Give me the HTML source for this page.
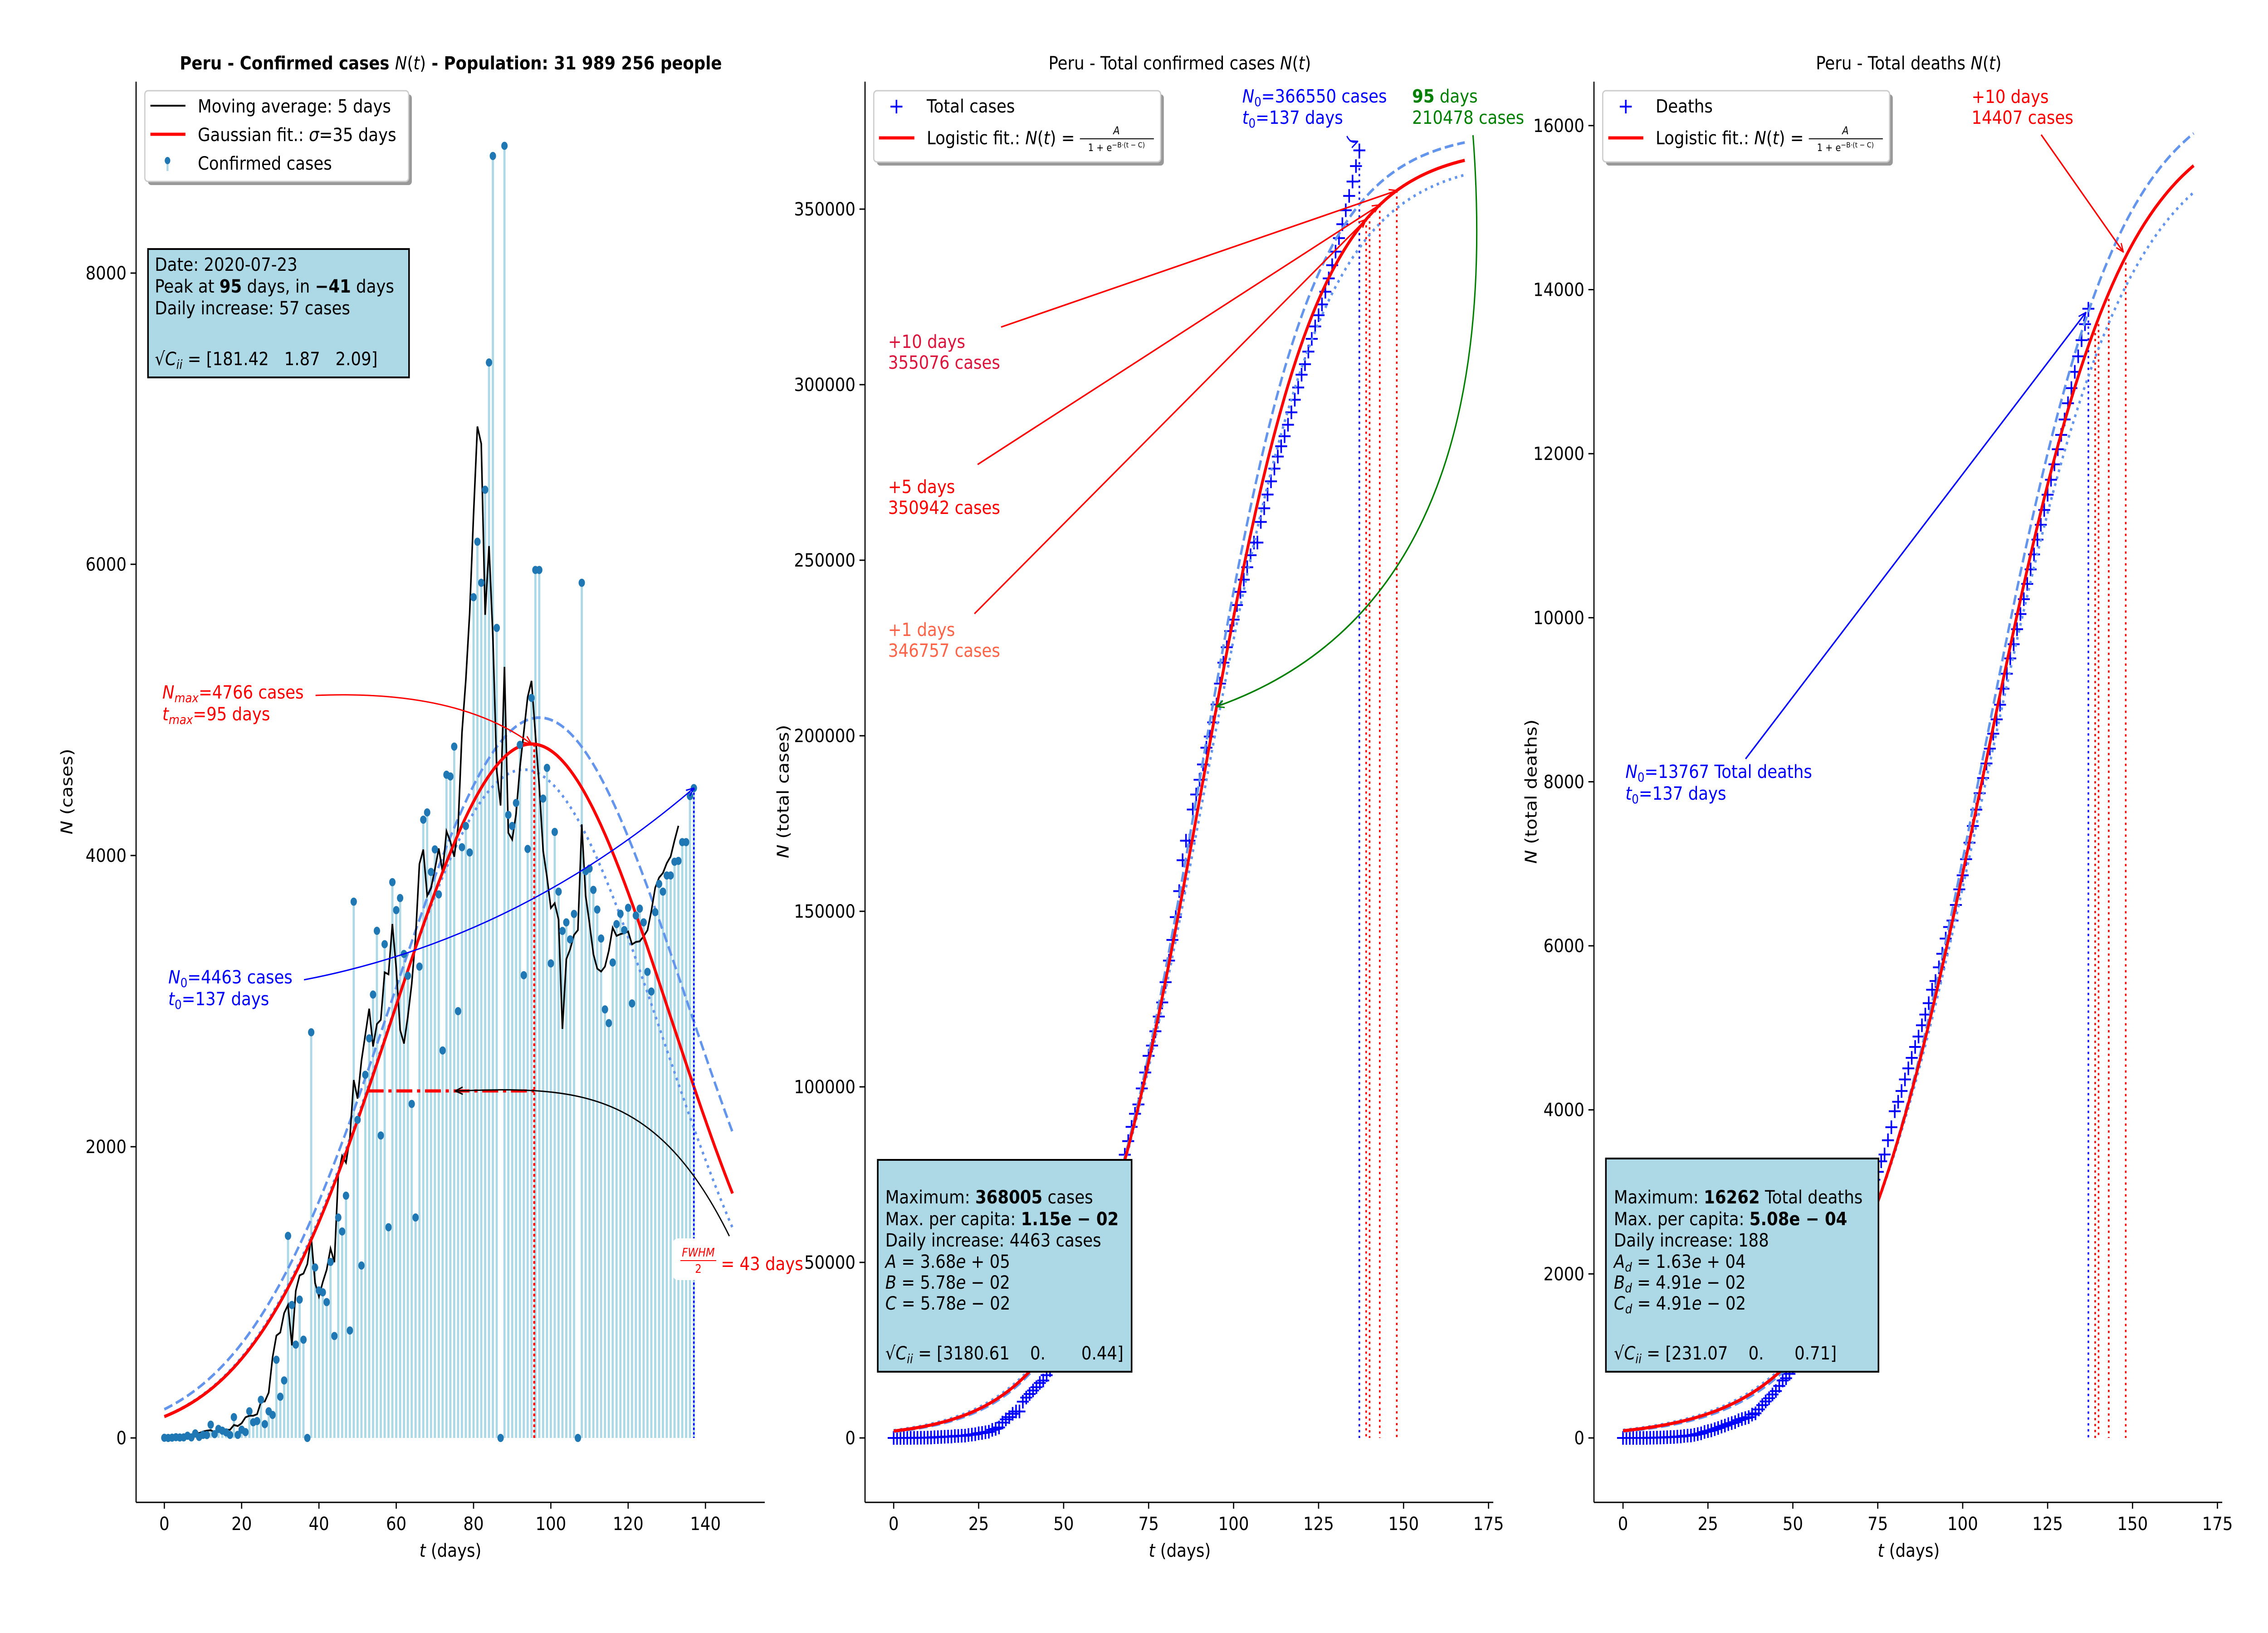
<!DOCTYPE html>
<html><head><meta charset="utf-8"><style>
html,body{margin:0;padding:0;background:#fff;width:100%;height:100%;overflow:hidden;}
svg{display:block;font-family:"DejaVu Sans","Liberation Sans",sans-serif;width:100vw;height:100vh;}
</style></head><body>
<svg id="fig" viewBox="0 0 5700 3600" preserveAspectRatio="none" xmlns="http://www.w3.org/2000/svg">
<defs>
<marker id="ahR" viewBox="0 0 20 20" refX="19" refY="10" markerWidth="20" markerHeight="20" markerUnits="userSpaceOnUse" orient="auto"><path d="M0,2 L19,10 L0,18" fill="none" stroke="red" stroke-width="3"/></marker>
<marker id="ahB" viewBox="0 0 20 20" refX="19" refY="10" markerWidth="20" markerHeight="20" markerUnits="userSpaceOnUse" orient="auto"><path d="M0,2 L19,10 L0,18" fill="none" stroke="blue" stroke-width="3"/></marker>
<marker id="ahK" viewBox="0 0 20 20" refX="19" refY="10" markerWidth="20" markerHeight="20" markerUnits="userSpaceOnUse" orient="auto"><path d="M0,2 L19,10 L0,18" fill="none" stroke="black" stroke-width="3"/></marker>
<marker id="ahG" viewBox="0 0 20 20" refX="19" refY="10" markerWidth="20" markerHeight="20" markerUnits="userSpaceOnUse" orient="auto"><path d="M0,2 L19,10 L0,18" fill="none" stroke="green" stroke-width="3"/></marker>
</defs>
<g id="p1"></g>
<g id="p2"></g>
<g id="p3"></g>
<g id="static" font-size="40.5">
 <text x="1133" y="153" text-anchor="middle" font-weight="bold">Peru - Confirmed cases <tspan font-style="italic" font-weight="normal">N</tspan><tspan font-weight="normal">(</tspan><tspan font-style="italic" font-weight="normal">t</tspan><tspan font-weight="normal">)</tspan> - Population: 31 989 256 people</text>
 <text x="2965" y="153" text-anchor="middle">Peru - Total confirmed cases <tspan font-style="italic">N</tspan>(<tspan font-style="italic">t</tspan>)</text>
 <text x="4797" y="153" text-anchor="middle">Peru - Total deaths <tspan font-style="italic">N</tspan>(<tspan font-style="italic">t</tspan>)</text>
 <text x="1132" y="3432" text-anchor="middle"><tspan font-style="italic">t</tspan> (days)</text>
 <text x="2965" y="3432" text-anchor="middle"><tspan font-style="italic">t</tspan> (days)</text>
 <text x="4797" y="3432" text-anchor="middle"><tspan font-style="italic">t</tspan> (days)</text>
 <text transform="translate(182,1745) rotate(-90)" text-anchor="middle"><tspan font-style="italic">N</tspan> (cases)</text>
 <text transform="translate(1982,1745) rotate(-90)" text-anchor="middle"><tspan font-style="italic">N</tspan> (total cases)</text>
 <text transform="translate(3862,1745) rotate(-90)" text-anchor="middle"><tspan font-style="italic">N</tspan> (total deaths)</text>

 <g>
  <rect x="372" y="208" width="663" height="200" rx="8" fill="#999"/>
  <rect x="364" y="200" width="663" height="200" rx="8" fill="#fff" stroke="#ccc" stroke-width="3"/>
  <line x1="378" y1="233" x2="466" y2="233" stroke="#000" stroke-width="4"/>
  <text x="497" y="248">Moving average: 5 days</text>
  <line x1="378" y1="296" x2="466" y2="296" stroke="red" stroke-width="7"/>
  <text x="497" y="311">Gaussian fit.: <tspan font-style="italic">σ</tspan>=35 days</text>
  <line x1="421" y1="354" x2="421" y2="377" stroke="#add8e6" stroke-width="5"/>
  <ellipse cx="421" cy="354" rx="7" ry="8" fill="#1f77b4"/>
  <text x="497" y="374">Confirmed cases</text>
 </g>
 <g>
  <rect x="2204" y="208" width="721" height="157" rx="8" fill="#999"/>
  <rect x="2196" y="200" width="721" height="157" rx="8" fill="#fff" stroke="#ccc" stroke-width="3"/>
  <path d="M2238,235 h30 M2253,220 v30" stroke="blue" stroke-width="4"/>
  <text x="2329" y="248">Total cases</text>
  <line x1="2209" y1="304" x2="2298" y2="304" stroke="red" stroke-width="7"/>
  <text x="2329" y="318">Logistic fit.: <tspan font-style="italic">N</tspan>(<tspan font-style="italic">t</tspan>) = </text>
  <text x="2806" y="296" font-size="24" text-anchor="middle" font-style="italic">A</text>
  <line x1="2714" y1="306" x2="2900" y2="306" stroke="#000" stroke-width="2"/>
  <text x="2806" y="333" font-size="22" text-anchor="middle">1 + e<tspan font-size="16" dy="-8">−B·(t − C)</tspan></text>
 </g>
 <g>
  <rect x="4036" y="208" width="721" height="157" rx="8" fill="#999"/>
  <rect x="4028" y="200" width="721" height="157" rx="8" fill="#fff" stroke="#ccc" stroke-width="3"/>
  <path d="M4071,235 h30 M4086,220 v30" stroke="blue" stroke-width="4"/>
  <text x="4161" y="248">Deaths</text>
  <line x1="4042" y1="304" x2="4130" y2="304" stroke="red" stroke-width="7"/>
  <text x="4161" y="318">Logistic fit.: <tspan font-style="italic">N</tspan>(<tspan font-style="italic">t</tspan>) = </text>
  <text x="4638" y="296" font-size="24" text-anchor="middle" font-style="italic">A</text>
  <line x1="4546" y1="306" x2="4732" y2="306" stroke="#000" stroke-width="2"/>
  <text x="4638" y="333" font-size="22" text-anchor="middle">1 + e<tspan font-size="16" dy="-8">−B·(t − C)</tspan></text>
 </g>

 <g>
  <rect x="372" y="549" width="656" height="283" fill="#add8e6" stroke="#000" stroke-width="4"/>
  <text x="389" y="597">Date: 2020-07-23</text>
  <text x="389" y="645">Peak at <tspan font-weight="bold">95</tspan> days, in <tspan font-weight="bold">−41</tspan> days</text>
  <text x="389" y="693">Daily increase: 57 cases</text>
  <text x="389" y="805" xml:space="preserve">√<tspan font-style="italic">C</tspan><tspan font-style="italic" font-size="28" dy="8">ii</tspan><tspan dy="-8"> = [181.42   1.87   2.09]</tspan></text>
 </g>
 <g>
  <rect x="2206" y="2557" width="638" height="467" fill="#add8e6" stroke="#000" stroke-width="4"/>
  <text x="2225" y="2653">Maximum: <tspan font-weight="bold">368005</tspan> cases</text>
  <text x="2225" y="2701">Max. per capita: <tspan font-weight="bold">1.15e − 02</tspan></text>
  <text x="2225" y="2748">Daily increase: 4463 cases</text>
  <text x="2225" y="2795"><tspan font-style="italic">A</tspan> = 3.68<tspan font-style="italic">e</tspan> + 05</text>
  <text x="2225" y="2841"><tspan font-style="italic">B</tspan> = 5.78<tspan font-style="italic">e</tspan> − 02</text>
  <text x="2225" y="2887"><tspan font-style="italic">C</tspan> = 5.78<tspan font-style="italic">e</tspan> − 02</text>
  <text x="2225" y="2997" xml:space="preserve">√<tspan font-style="italic">C</tspan><tspan font-style="italic" font-size="28" dy="8">ii</tspan><tspan dy="-8"> = [3180.61    0.       0.44]</tspan></text>
 </g>
 <g>
  <rect x="4036" y="2554" width="685" height="470" fill="#add8e6" stroke="#000" stroke-width="4"/>
  <text x="4056" y="2653">Maximum: <tspan font-weight="bold">16262</tspan> Total deaths</text>
  <text x="4056" y="2701">Max. per capita: <tspan font-weight="bold">5.08e − 04</tspan></text>
  <text x="4056" y="2748">Daily increase: 188</text>
  <text x="4056" y="2795"><tspan font-style="italic">A<tspan font-size="28" dy="8">d</tspan></tspan><tspan dy="-8"> = 1.63</tspan><tspan font-style="italic">e</tspan> + 04</text>
  <text x="4056" y="2841"><tspan font-style="italic">B<tspan font-size="28" dy="8">d</tspan></tspan><tspan dy="-8"> = 4.91</tspan><tspan font-style="italic">e</tspan> − 02</text>
  <text x="4056" y="2887"><tspan font-style="italic">C<tspan font-size="28" dy="8">d</tspan></tspan><tspan dy="-8"> = 4.91</tspan><tspan font-style="italic">e</tspan> − 02</text>
  <text x="4056" y="2997" xml:space="preserve">√<tspan font-style="italic">C</tspan><tspan font-style="italic" font-size="28" dy="8">ii</tspan><tspan dy="-8"> = [231.07    0.      0.71]</tspan></text>
 </g>

 <text x="408" y="1540" fill="red"><tspan font-style="italic">N</tspan><tspan font-style="italic" font-size="28" dy="8">max</tspan><tspan dy="-8">=4766 cases</tspan></text>
 <text x="408" y="1588" fill="red"><tspan font-style="italic">t</tspan><tspan font-style="italic" font-size="28" dy="8">max</tspan><tspan dy="-8">=95 days</tspan></text>
 <text x="423" y="2168" fill="blue"><tspan font-style="italic">N</tspan><tspan font-size="28" dy="8">0</tspan><tspan dy="-8">=4463 cases</tspan></text>
 <text x="423" y="2216" fill="blue"><tspan font-style="italic">t</tspan><tspan font-size="28" dy="8">0</tspan><tspan dy="-8">=137 days</tspan></text>
 <g>
  <rect x="1690" y="2730" width="150" height="92" rx="14" fill="#fff"/>
  <text x="1755" y="2770" fill="red" font-size="26" font-style="italic" text-anchor="middle">FWHM</text>
  <line x1="1710" y1="2779" x2="1800" y2="2779" stroke="red" stroke-width="2"/>
  <text x="1755" y="2806" fill="red" font-size="26" text-anchor="middle">2</text>
  <text x="1812" y="2800" fill="red">= 43 days</text>
 </g>

 <text x="2232" y="767" fill="#dc143c">+10 days</text>
 <text x="2232" y="813" fill="#dc143c">355076 cases</text>
 <text x="2232" y="1087" fill="red">+5 days</text>
 <text x="2232" y="1133" fill="red">350942 cases</text>
 <text x="2232" y="1402" fill="#ff6347">+1 days</text>
 <text x="2232" y="1448" fill="#ff6347">346757 cases</text>
 <text x="3122" y="226" fill="blue"><tspan font-style="italic">N</tspan><tspan font-size="28" dy="8">0</tspan><tspan dy="-8">=366550 cases</tspan></text>
 <text x="3122" y="273" fill="blue"><tspan font-style="italic">t</tspan><tspan font-size="28" dy="8">0</tspan><tspan dy="-8">=137 days</tspan></text>
 <text x="3549" y="226" fill="green"><tspan font-weight="bold">95</tspan> days</text>
 <text x="3549" y="273" fill="green">210478 cases</text>

 <text x="4955" y="227" fill="red">+10 days</text>
 <text x="4955" y="273" fill="red">14407 cases</text>
 <text x="4085" y="1715" fill="blue"><tspan font-style="italic">N</tspan><tspan font-size="28" dy="8">0</tspan><tspan dy="-8">=13767 Total deaths</tspan></text>
 <text x="4085" y="1763" fill="blue"><tspan font-style="italic">t</tspan><tspan font-size="28" dy="8">0</tspan><tspan dy="-8">=137 days</tspan></text>
</g>
</svg>
<script>
// ---------- DATA ----------
const days = Array.from({length:138},(_,i)=>i);
const dailyCases = [1,0,2,5,3,4,15,4,31,7,21,20,91,26,62,50,38,21,143,21,57,40,183,108,116,262,95,183,158,537,
283,395,1388,913,641,950,675,0,2786,1171,1013,1000,933,1209,700,1514,1418,1664,738,3683,
2185,1184,2494,2744,3045,3483,2077,3391,1447,3817,3625,3708,3324,3174,2294,1514,3237,4246,4296,3887,
4042,3733,2661,4555,4543,4748,2931,4057,4203,4021,5774,6155,5873,6512,7386,8804,5563,0,8874,4279,
4203,4361,4760,3178,4045,5082,5961,5961,4391,4602,3259,4162,3752,3482,3541,3424,3599,0,5873,3892,
3910,3764,3629,3430,2943,2849,3265,3529,3600,3488,3641,2984,3588,3635,3541,3201,3066,3611,3805,3752,
3863,3863,3957,3963,4092,4092,4408,4463];
const totalDeaths = [0,0,0,0,0,0,0,1,2,3,4,5,7,9,11,12,16,18,24,28,30,38,47,56,73,83,92,107,121,138,
151,169,181,193,216,230,242,254,285,300,348,400,445,484,530,572,634,700,728,782,
854,943,982,1051,1124,1200,1286,1344,1444,1533,1627,1714,1814,1889,1961,2057,2169,2267,2392,2523,
2648,2789,2914,3024,3148,3244,3373,3456,3629,3788,3983,4099,4230,4371,4506,4634,4767,4894,5031,5162,
5301,5465,5571,5738,5903,6088,6229,6308,6498,6688,6860,7056,7257,7461,7660,7861,8045,8223,8404,8586,
8761,8939,9135,9317,9504,9677,9860,10045,10226,10412,10589,10772,10952,11133,11314,11500,11682,11870,12054,12229,
12417,12615,12799,12998,13187,13384,13579,13767];
const ticks1X = [0,20,40,60,80,100,120,140];
const ticks1Y = [0,2000,4000,6000,8000];
const ticks2X = [0,25,50,75,100,125,150,175];
const ticks2Y = [0,50000,100000,150000,200000,250000,300000,350000];
const ticks3Y = [0,2000,4000,6000,8000,10000,12000,14000,16000];
const gaussFit = [4766,95,36];
const gaussUpper = [4947,97,38.2];
const gaussLower = [4590,93,35.5];
const logiFit = [368005,0.0578,90.4];
const logiUpper = [372500,0.0595,89.8];
const logiLower = [364500,0.0562,91.0];
const deathFit = [16262,0.0491,106.3];
const deathUpper = [16600,0.0505,106.0];
const deathLower = [16000,0.0478,106.8];
const forecastDays = [139,140,143,148];
const lastDay = 137;

// ---------- SCALES ----------
const X1=d=>413+d*9.714, Y1=v=>3170-v*0.321;
const X2=d=>2246+d*8.543, Y2=v=>3170-v*0.00774;
const X3=d=>4079+d*8.537, Y3=v=>3170-v*0.18082;
const NS="http://www.w3.org/2000/svg";
function mk(parent,tag,attrs,txt){const e=document.createElementNS(NS,tag);for(const k in attrs)e.setAttribute(k,attrs[k]);if(txt!==undefined)e.textContent=txt;parent.appendChild(e);return e;}
const gauss=(p,t)=>p[0]*Math.exp(-((t-p[1])**2)/(2*p[2]*p[2]));
const logi=(p,t)=>p[0]/(1+Math.exp(-p[1]*(t-p[2])));
function pathOf(f,X,Y,t0,t1,step){let d="";for(let t=t0;t<=t1+1e-9;t+=step){d+=(d?"L":"M")+X(t).toFixed(1)+","+Y(f(t)).toFixed(1);}return d;}

function axes(g,left,right,X,Y,tx,ty,name){
  let e=mk(g,"line",{x1:left,y1:3312,x2:right,y2:3312,stroke:"#000","stroke-width":3});
  
  
  e=mk(g,"line",{x1:left,y1:180,x2:left,y2:3312,stroke:"#000","stroke-width":3});
  
  
  tx.forEach(v=>{mk(g,"line",{x1:X(v),y1:3312,x2:X(v),y2:3326,stroke:"#000","stroke-width":3});
    const t=mk(g,"text",{x:X(v),y:3373,"text-anchor":"middle","font-size":40.5},String(v));
    
    });
  ty.forEach(v=>{mk(g,"line",{x1:left-14,y1:Y(v),x2:left,y2:Y(v),stroke:"#000","stroke-width":3});
    const t=mk(g,"text",{x:left-24,y:Y(v)+14,"text-anchor":"end","font-size":40.5},String(v));
    
    });
}
function plus(g,x,y){const e=mk(g,"path",{d:`M${x-15},${y}h30M${x},${y-15}v30`,stroke:"blue","stroke-width":4});
  
  }

// ---------- PANEL 1 ----------
const p1=document.getElementById('p1');
axes(p1,342,1922,X1,Y1,ticks1X,ticks1Y,'panel1');
days.forEach(d=>{const e=mk(p1,"line",{x1:X1(d),y1:Y1(0),x2:X1(d),y2:Y1(dailyCases[d]),stroke:"#add8e6","stroke-width":5.5});
  
  });
let e;
e=mk(p1,"path",{d:pathOf(t=>gauss(gaussUpper,t),X1,Y1,0,147,0.5),fill:"none",stroke:"#6495ed","stroke-width":6,"stroke-dasharray":"22,10"});


e=mk(p1,"path",{d:pathOf(t=>gauss(gaussLower,t),X1,Y1,0,147,0.5),fill:"none",stroke:"#6495ed","stroke-width":6,"stroke-dasharray":"6,10"});


let ma="";for(let d=0;d<=dailyCases.length-5;d++){let s=0;for(let k=0;k<5;k++)s+=dailyCases[d+k];ma+=(ma?"L":"M")+X1(d).toFixed(1)+","+Y1(s/5).toFixed(1);}
e=mk(p1,"path",{d:ma,fill:"none",stroke:"#000","stroke-width":4});


e=mk(p1,"path",{d:pathOf(t=>gauss(gaussFit,t),X1,Y1,0,147,0.5),fill:"none",stroke:"red","stroke-width":7});


days.forEach(d=>{const c=mk(p1,"ellipse",{cx:X1(d),cy:Y1(dailyCases[d]),rx:8,ry:9,fill:"#1f77b4"});
  
  });
const hw=gaussFit[2]*Math.sqrt(2*Math.log(2));
e=mk(p1,"line",{x1:X1(gaussFit[1]-hw),y1:Y1(gaussFit[0]/2),x2:X1(gaussFit[1]+0.7),y2:Y1(gaussFit[0]/2),stroke:"red","stroke-width":7,"stroke-dasharray":"40,12,8,12"});


e=mk(p1,"line",{x1:X1(gaussFit[1]+0.7),y1:Y1(gaussFit[0]),x2:X1(gaussFit[1]+0.7),y2:Y1(0),stroke:"red","stroke-width":5,"stroke-dasharray":"6,6"});


e=mk(p1,"line",{x1:X1(lastDay),y1:Y1(dailyCases[lastDay]),x2:X1(lastDay),y2:Y1(0),stroke:"blue","stroke-width":4,"stroke-dasharray":"5,5"});


const pk=[X1(gaussFit[1]),Y1(gaussFit[0])];
e=mk(p1,"path",{d:`M793,1533 Q1150,1520 ${pk[0]},${pk[1]}`,fill:"none",stroke:"red","stroke-width":3,"marker-end":"url(#ahR)"});


const lp=[X1(lastDay),Y1(dailyCases[lastDay])];
e=mk(p1,"path",{d:`M764,2160 Q1300,2070 ${lp[0]},${lp[1]}`,fill:"none",stroke:"blue","stroke-width":3,"marker-end":"url(#ahB)"});


const hl=[X1(gaussFit[1]-hw)+220,Y1(gaussFit[0]/2)];
e=mk(p1,"path",{d:`M1833,2725 C1650,2400 1450,2395 ${hl[0]},${hl[1]}`,fill:"none",stroke:"#000","stroke-width":3,"marker-end":"url(#ahK)"});



// ---------- PANEL 2 ----------
const p2=document.getElementById('p2');
axes(p2,2174,3753,X2,Y2,ticks2X,ticks2Y,'panel2');
const totalCases=[];let acc=0;dailyCases.forEach(v=>{acc+=v;totalCases.push(acc);});
forecastDays.forEach(d=>{const l=mk(p2,"line",{x1:X2(d),y1:Y2(logi(logiFit,d)),x2:X2(d),y2:Y2(0),stroke:"red","stroke-width":4,"stroke-dasharray":"5,8"});
  
  });
e=mk(p2,"line",{x1:X2(lastDay),y1:Y2(totalCases[lastDay]),x2:X2(lastDay),y2:Y2(0),stroke:"blue","stroke-width":4,"stroke-dasharray":"5,8"});


days.forEach(d=>plus(p2,X2(d),Y2(totalCases[d])));
e=mk(p2,"path",{d:pathOf(t=>logi(logiUpper,t),X2,Y2,0,168,0.5),fill:"none",stroke:"#6495ed","stroke-width":6,"stroke-dasharray":"22,10"});


e=mk(p2,"path",{d:pathOf(t=>logi(logiLower,t),X2,Y2,0,168,0.5),fill:"none",stroke:"#6495ed","stroke-width":6,"stroke-dasharray":"6,10"});


e=mk(p2,"path",{d:pathOf(t=>logi(logiFit,t),X2,Y2,0,168,0.5),fill:"none",stroke:"red","stroke-width":7});


const starts=[[2516,721],[2457,1024],[2449,1353]];
const tgt=[148,143,139];
starts.forEach((s,i)=>{const a=mk(p2,"line",{x1:s[0],y1:s[1],x2:X2(tgt[i]),y2:Y2(logi(logiFit,tgt[i])),stroke:"red","stroke-width":3.5,"marker-end":"url(#ahR)"});
  
  });
e=mk(p2,"path",{d:`M3385,300 Q3395,318 ${X2(lastDay)-4},${Y2(totalCases[lastDay])-20}`,fill:"none",stroke:"blue","stroke-width":3,"marker-end":"url(#ahB)"});


e=mk(p2,"path",{d:`M3702,298 Q3790,1330 ${X2(95)},${Y2(logi(logiFit,95))}`,fill:"none",stroke:"green","stroke-width":3.5,"marker-end":"url(#ahG)"});



// ---------- PANEL 3 ----------
const p3=document.getElementById('p3');
axes(p3,4006,5585,X3,Y3,ticks2X,ticks3Y,'panel3');
forecastDays.forEach(d=>{const l=mk(p3,"line",{x1:X3(d),y1:Y3(logi(deathFit,d)),x2:X3(d),y2:Y3(0),stroke:"red","stroke-width":4,"stroke-dasharray":"5,8"});
  
  });
e=mk(p3,"line",{x1:X3(lastDay),y1:Y3(totalDeaths[lastDay]),x2:X3(lastDay),y2:Y3(0),stroke:"blue","stroke-width":4,"stroke-dasharray":"5,8"});


days.forEach(d=>plus(p3,X3(d),Y3(totalDeaths[d])));
e=mk(p3,"path",{d:pathOf(t=>logi(deathUpper,t),X3,Y3,0,168,0.5),fill:"none",stroke:"#6495ed","stroke-width":6,"stroke-dasharray":"22,10"});


e=mk(p3,"path",{d:pathOf(t=>logi(deathLower,t),X3,Y3,0,168,0.5),fill:"none",stroke:"#6495ed","stroke-width":6,"stroke-dasharray":"6,10"});


e=mk(p3,"path",{d:pathOf(t=>logi(deathFit,t),X3,Y3,0,168,0.5),fill:"none",stroke:"red","stroke-width":7});


e=mk(p3,"line",{x1:5130,y1:297,x2:X3(148)-6,y2:Y3(logi(deathFit,148))-10,stroke:"red","stroke-width":3.5,"marker-end":"url(#ahR)"});


e=mk(p3,"line",{x1:4387,y1:1673,x2:X3(lastDay)-6,y2:Y3(totalDeaths[lastDay])+8,stroke:"blue","stroke-width":3.5,"marker-end":"url(#ahB)"});


</script>
</body></html>
